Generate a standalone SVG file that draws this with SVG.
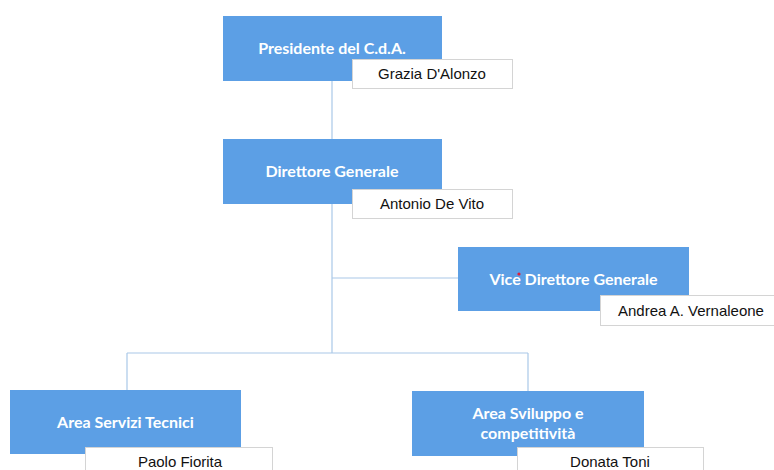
<svg xmlns="http://www.w3.org/2000/svg" width="774" height="470" viewBox="0 0 774 470">
<style>
.box{fill:#5c9fe5;}
.name{fill:#ffffff;stroke:#d4d4d4;stroke-width:1;}
.t{font-family:Lato,"Open Sans",sans-serif;font-weight:bold;font-size:16px;fill:#ffffff;text-anchor:middle;}
.n{font-family:"Liberation Sans",Arial,sans-serif;font-size:15px;fill:#111111;text-anchor:middle;}
.ln{stroke:#a9c8e8;stroke-width:1.2;fill:none;}
</style>
<rect width="774" height="470" fill="#ffffff"/>
<g id="connectors">
<path class="ln" d="M332,81 V139"/>
<path class="ln" d="M332,204 V353"/>
<path class="ln" d="M332,278 H458"/>
<path class="ln" d="M127,353 H528"/>
<path class="ln" d="M127,353 V390"/>
<path class="ln" d="M528,353 V391"/>
</g>
<g id="presidente">
<rect class="box" x="223" y="16" width="219" height="65"/>
<text class="t" x="332" y="54">Presidente del C.d.A.</text>
<rect class="name" x="352.5" y="59.5" width="160" height="29"/>
<text class="n" x="432" y="79">Grazia D'Alonzo</text>
</g>
<g id="direttore">
<rect class="box" x="223" y="139" width="219" height="65"/>
<text class="t" x="332" y="177">Direttore Generale</text>
<rect class="name" x="352.5" y="189.5" width="160" height="29"/>
<text class="n" x="432" y="209">Antonio De Vito</text>
</g>
<g id="vice">
<rect class="box" x="458" y="247" width="231" height="64"/>
<text class="t" x="573.5" y="285">Vice Direttore Generale</text>
<circle cx="519" cy="274" r="1.6" fill="#e0203a"/>
<rect class="name" x="600.5" y="295.5" width="182" height="30"/>
<text class="n" x="691" y="316">Andrea A. Vernaleone</text>
</g>
<g id="servizi">
<rect class="box" x="10" y="390" width="231" height="64"/>
<text class="t" x="125.5" y="428">Area Servizi Tecnici</text>
<rect class="name" x="85.5" y="447.5" width="187" height="30"/>
<text class="n" x="180" y="467">Paolo Fiorita</text>
</g>
<g id="sviluppo">
<rect class="box" x="412" y="391" width="232" height="65"/>
<text class="t" x="528" y="419">Area Sviluppo e</text>
<text class="t" x="528" y="439">competitività</text>
<rect class="name" x="517.5" y="447.5" width="186" height="30"/>
<text class="n" x="610" y="467">Donata Toni</text>
</g>
</svg>
